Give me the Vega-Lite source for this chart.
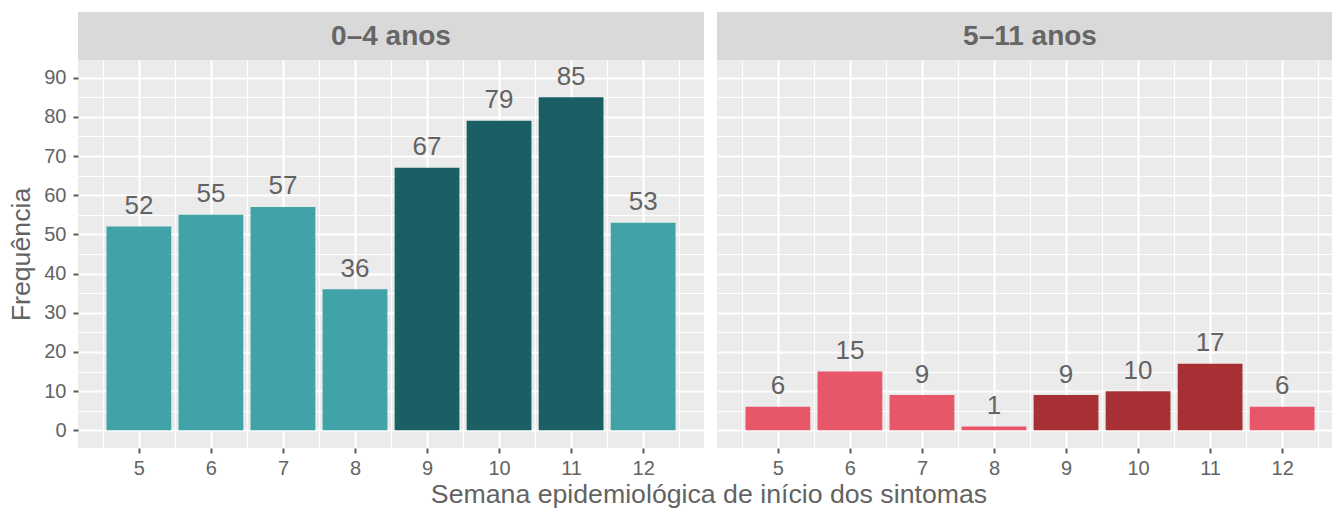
{
  "$schema": "https://vega.github.io/schema/vega-lite/v6.json",
  "padding": {"left": 8, "top": 12, "right": 0, "bottom": 0},
  "autosize": {"type": "pad"},
  "config": {"view": {"fill": "#EBEBEB", "stroke": null}, "font": "Liberation Sans"},
  "datasets": {
    "casos": [
      {"faixa": "0–4 anos", "semana": 5, "n": 52, "destaque": "não"},
      {"faixa": "0–4 anos", "semana": 6, "n": 55, "destaque": "não"},
      {"faixa": "0–4 anos", "semana": 7, "n": 57, "destaque": "não"},
      {"faixa": "0–4 anos", "semana": 8, "n": 36, "destaque": "não"},
      {"faixa": "0–4 anos", "semana": 9, "n": 67, "destaque": "sim"},
      {"faixa": "0–4 anos", "semana": 10, "n": 79, "destaque": "sim"},
      {"faixa": "0–4 anos", "semana": 11, "n": 85, "destaque": "sim"},
      {"faixa": "0–4 anos", "semana": 12, "n": 53, "destaque": "não"},
      {"faixa": "5–11 anos", "semana": 5, "n": 6, "destaque": "não"},
      {"faixa": "5–11 anos", "semana": 6, "n": 15, "destaque": "não"},
      {"faixa": "5–11 anos", "semana": 7, "n": 9, "destaque": "não"},
      {"faixa": "5–11 anos", "semana": 8, "n": 1, "destaque": "não"},
      {"faixa": "5–11 anos", "semana": 9, "n": 9, "destaque": "sim"},
      {"faixa": "5–11 anos", "semana": 10, "n": 10, "destaque": "sim"},
      {"faixa": "5–11 anos", "semana": 11, "n": 17, "destaque": "sim"},
      {"faixa": "5–11 anos", "semana": 12, "n": 6, "destaque": "não"}
    ]
  },
  "title": {
    "text": "Semana epidemiológica de início dos sintomas",
    "orient": "bottom", "anchor": "middle", "frame": "group",
    "fontSize": 26.7, "fontWeight": "normal", "color": "#636363",
    "font": "Liberation Sans", "dx": 631, "offset": 4
  },
  "spacing": 13,
  "resolve": {"scale": {"x": "independent", "y": "independent", "color": "independent"}},
  "hconcat": [
    {
      "spacing": 0,
      "vconcat": [
        {
          "width": 626, "height": 48,
          "view": {"fill": "#D9D9D9", "stroke": null},
          "data": {"values": [{"faixa": "0–4 anos"}]},
          "mark": {"type": "text", "fontSize": 28, "fontWeight": "bold", "color": "#666666", "baseline": "middle", "align": "center", "dy": 1},
          "encoding": {"text": {"field": "faixa"}}
        },
        {
          "width": 626, "height": 388,
          "data": {"name": "casos"},
          "transform": [{"filter": "datum.faixa === '0–4 anos'"}],
          "encoding": {
            "x": {
              "field": "semana", "type": "quantitative",
              "scale": {"domain": [4.155, 12.845], "nice": false, "zero": false, "padding": 0},
              "axis": {
                "values": [4.5, 5, 5.5, 6, 6.5, 7, 7.5, 8, 8.5, 9, 9.5, 10, 10.5, 11, 11.5, 12, 12.5],
                "labelExpr": "datum.value % 1 === 0 ? format(datum.value, 'd') : ''",
                "title": null,
                "domain": false, "labelOverlap": false, "labelFlush": false,
                "tickSize": 5, "tickWidth": 2, "tickColor": "#5A5A5A",
                "tickOpacity": {"condition": {"test": "datum.value % 1 === 0", "value": 1}, "value": 0},
                "gridColor": "#FFFFFF",
                "gridWidth": {"condition": {"test": "datum.value % 1 === 0", "value": 2.2}, "value": 1.1},
                "labelFontSize": 20, "labelColor": "#636363", "labelPadding": 5, "labelFont": "Liberation Sans"
              }
            },
            "y": {
              "field": "n", "type": "quantitative",
              "scale": {"domain": [-4.5, 94.5], "nice": false, "zero": false},
              "axis": {
                "values": [0, 5, 10, 15, 20, 25, 30, 35, 40, 45, 50, 55, 60, 65, 70, 75, 80, 85, 90],
                "labelExpr": "datum.value % 10 === 0 ? format(datum.value, 'd') : ''",
                "title": "Frequência", "titleFontSize": 26.7, "titleFontWeight": "normal", "titleColor": "#636363",
                "titleFont": "Liberation Sans", "titlePadding": 8,
                "domain": false, "labelOverlap": false,
                "tickSize": 5, "tickWidth": 2, "tickColor": "#5A5A5A",
                "tickOpacity": {"condition": {"test": "datum.value % 10 === 0", "value": 1}, "value": 0},
                "gridColor": "#FFFFFF",
                "gridWidth": {"condition": {"test": "datum.value % 10 === 0", "value": 2.2}, "value": 1.1},
                "labelFontSize": 20, "labelColor": "#636363", "labelPadding": 7, "labelFont": "Liberation Sans"
              }
            }
          },
          "layer": [
            {
              "mark": {"type": "bar", "width": 64.8},
              "encoding": {
                "color": {
                  "field": "destaque", "type": "nominal",
                  "scale": {"domain": ["não", "sim"], "range": ["#41A3A8", "#1A5F63"]},
                  "legend": null
                }
              }
            },
            {
              "mark": {"type": "text", "baseline": "middle", "dy": -20.5, "fontSize": 26, "color": "#636363", "font": "Liberation Sans"},
              "encoding": {"text": {"field": "n", "type": "quantitative"}}
            }
          ]
        }
      ]
    },
    {
      "spacing": 0,
      "vconcat": [
        {
          "width": 616, "height": 48,
          "view": {"fill": "#D9D9D9", "stroke": null},
          "data": {"values": [{"faixa": "5–11 anos"}]},
          "mark": {"type": "text", "fontSize": 28, "fontWeight": "bold", "color": "#666666", "baseline": "middle", "align": "center", "dx": 5, "dy": 1},
          "encoding": {"text": {"field": "faixa"}}
        },
        {
          "width": 616, "height": 388,
          "data": {"name": "casos"},
          "transform": [{"filter": "datum.faixa === '5–11 anos'"}],
          "encoding": {
            "x": {
              "field": "semana", "type": "quantitative",
              "scale": {"domain": [4.155, 12.706], "nice": false, "zero": false, "padding": 0},
              "axis": {
                "values": [4.5, 5, 5.5, 6, 6.5, 7, 7.5, 8, 8.5, 9, 9.5, 10, 10.5, 11, 11.5, 12, 12.5],
                "labelExpr": "datum.value % 1 === 0 ? format(datum.value, 'd') : ''",
                "title": null, "domain": false, "labelOverlap": false, "labelFlush": false,
                "tickSize": 5, "tickWidth": 2, "tickColor": "#5A5A5A",
                "tickOpacity": {"condition": {"test": "datum.value % 1 === 0", "value": 1}, "value": 0},
                "gridColor": "#FFFFFF",
                "gridWidth": {"condition": {"test": "datum.value % 1 === 0", "value": 2.2}, "value": 1.1},
                "labelFontSize": 20, "labelColor": "#636363", "labelPadding": 5, "labelFont": "Liberation Sans"
              }
            },
            "y": {
              "field": "n", "type": "quantitative",
              "scale": {"domain": [-4.5, 94.5], "nice": false, "zero": false},
              "axis": {
                "values": [0, 5, 10, 15, 20, 25, 30, 35, 40, 45, 50, 55, 60, 65, 70, 75, 80, 85, 90],
                "title": null, "labels": false, "ticks": false, "domain": false,
                "gridColor": "#FFFFFF",
                "gridWidth": {"condition": {"test": "datum.value % 10 === 0", "value": 2.2}, "value": 1.1}
              }
            }
          },
          "layer": [
            {
              "mark": {"type": "bar", "width": 64.8},
              "encoding": {
                "color": {
                  "field": "destaque", "type": "nominal",
                  "scale": {"domain": ["não", "sim"], "range": ["#E8566A", "#A63034"]},
                  "legend": null
                }
              }
            },
            {
              "mark": {"type": "text", "baseline": "middle", "dy": -20.5, "fontSize": 26, "color": "#636363", "font": "Liberation Sans"},
              "encoding": {"text": {"field": "n", "type": "quantitative"}}
            }
          ]
        }
      ]
    }
  ]
}
